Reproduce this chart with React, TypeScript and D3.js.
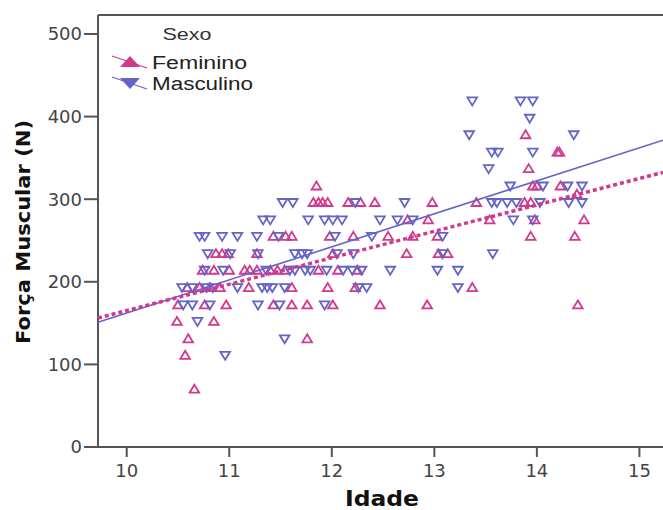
import React, { useEffect, useRef } from 'react';
import * as d3 from 'd3';

// Feminino (pink, up triangles)
const femIdade = [
  10.66, 10.57, 10.6, 11.76, 10.49, 10.85,
  10.5, 10.76, 10.97, 11.43, 11.61, 11.76, 12.01, 12.47, 12.93, 14.4,
  10.59, 10.71, 10.81, 10.91, 11.19, 11.61, 11.96, 12.23, 13.37,
  10.74, 10.85, 11.0, 11.15, 11.2, 11.27, 11.4, 11.47, 11.54, 11.87, 12.06, 12.25,
  10.87, 10.93, 10.99, 11.27, 12.01, 12.73, 13.04, 13.13,
  11.43, 11.55, 11.61, 11.98, 12.21, 12.55, 12.79, 13.03, 13.94, 14.37,
  12.74, 12.94, 13.54, 13.98, 14.46,
  11.82, 11.87, 11.91, 11.96, 12.16, 12.28, 12.42, 12.98, 13.41, 13.88, 13.94,
  14.39,
  11.85, 13.96, 14.0, 14.23,
  13.92,
  14.2, 14.22,
  13.89,
];
const femForca = [
  70, 111, 131, 131, 152, 152,
  172, 172, 172, 172, 172, 172, 172, 172, 172, 172,
  193, 193, 193, 193, 193, 193, 193, 193, 193,
  214, 214, 214, 214, 214, 214, 214, 214, 214, 214, 214, 214,
  234, 234, 234, 234, 234, 234, 234, 234,
  255, 255, 255, 255, 255, 255, 255, 255, 255, 255,
  275, 275, 275, 275, 275,
  296, 296, 296, 296, 296, 296, 296, 296, 296, 296, 296,
  306,
  316, 316, 316, 316,
  337,
  357, 357,
  378,
];

// Masculino (blue, down triangles)
const mascIdade = [
  10.96, 11.54, 10.69,
  10.55, 10.64, 10.81, 11.28, 11.49, 11.93,
  10.54, 10.64, 10.78, 10.84, 11.08, 11.32, 11.37, 11.42, 11.54, 12.26, 12.34, 13.23,
  10.76, 10.94, 11.36, 11.59, 11.64, 11.74, 11.79, 11.95, 12.11, 12.2, 12.29, 12.57, 13.03, 13.23,
  10.79, 11.01, 11.28, 11.64, 11.71, 11.76, 12.05, 12.21, 13.08, 13.57,
  10.71, 10.76, 10.93, 11.08, 11.27, 11.48, 12.03, 12.39, 13.08,
  11.33, 11.4, 11.77, 11.93, 12.01, 12.1, 12.47, 12.64, 12.79, 13.77, 13.96,
  11.52, 11.62, 12.23, 12.71, 13.56, 13.61, 13.71, 13.8, 14.03, 14.31, 14.44,
  13.74, 14.06, 14.3, 14.44,
  13.53,
  13.56, 13.62, 13.96,
  13.34, 14.36,
  13.93,
  13.37, 13.84, 13.96,
];
const mascForca = [
  111, 131, 152,
  172, 172, 172, 172, 172, 172,
  193, 193, 193, 193, 193, 193, 193, 193, 193, 193, 193, 193,
  214, 214, 214, 214, 214, 214, 214, 214, 214, 214, 214, 214, 214, 214,
  234, 234, 234, 234, 234, 234, 234, 234, 234, 234,
  255, 255, 255, 255, 255, 255, 255, 255, 255,
  275, 275, 275, 275, 275, 275, 275, 275, 275, 275, 275,
  296, 296, 296, 296, 296, 296, 296, 296, 296, 296, 296,
  316, 316, 316, 316,
  337,
  357, 357, 357,
  378, 378,
  398,
  419, 419, 419,
];

// linear fit lines: forca = a + b * idade
const fitFeminino = { a: -154.9, b: 32 };
const fitMasculino = { a: -237.7, b: 40 };

const xTicks = [10, 11, 12, 13, 14, 15];
const yTicks = [0, 100, 200, 300, 400, 500];

const PINK = '#d2398c';
const BLUE = '#6464c8';
const AXIS = '#555';

function App() {
  const ref = useRef<SVGSVGElement>(null);
  const width = 663;
  const height = 510;

  useEffect(() => {
    drawChart();
  }, []);

  function drawChart() {
    const svg = d3.select(ref.current);
    svg.selectAll('*').remove();

    const x = d3.scaleLinear().domain([9.72, 15.23]).range([98, 663]);
    const y = d3.scaleLinear().domain([0, 523]).range([447, 15]);

    const up = 'M0,-4.5L4.8,3.5L-4.8,3.5Z';
    const down = 'M0,4.5L4.8,-3.5L-4.8,-3.5Z';

    // frame
    svg.append('line').attr('x1', x(9.72)).attr('x2', 663).attr('y1', y(523)).attr('y2', y(523))
      .attr('stroke', AXIS).attr('stroke-width', 2);
    svg.append('line').attr('x1', x(9.72)).attr('x2', x(9.72)).attr('y1', y(523)).attr('y2', y(0) + 1)
      .attr('stroke', AXIS).attr('stroke-width', 2);
    svg.append('line').attr('x1', x(9.72) - 14).attr('x2', 663).attr('y1', y(0)).attr('y2', y(0))
      .attr('stroke', AXIS).attr('stroke-width', 2);

    // y ticks
    const gy = svg.append('g');
    yTicks.forEach((t) => {
      gy.append('line').attr('x1', x(9.72) - 14).attr('x2', x(9.72)).attr('y1', y(t)).attr('y2', y(t))
        .attr('stroke', AXIS).attr('stroke-width', 2);
      gy.append('text').attr('x', x(9.72) - 16).attr('y', y(t)).attr('dy', '0.36em')
        .attr('text-anchor', 'end').attr('font-family', 'DejaVu Sans').attr('font-size', 18)
        .attr('fill', '#444').text(t);
    });

    // x ticks
    const gx = svg.append('g');
    xTicks.forEach((t) => {
      gx.append('line').attr('x1', x(t)).attr('x2', x(t)).attr('y1', y(0)).attr('y2', y(0) + 10)
        .attr('stroke', AXIS).attr('stroke-width', 2);
      gx.append('text').attr('x', x(t)).attr('y', 477)
        .attr('text-anchor', 'middle').attr('font-family', 'DejaVu Sans').attr('font-size', 18)
        .attr('fill', '#444').text(t);
    });

    // axis titles
    svg.append('text').attr('x', 382).attr('y', 506).attr('text-anchor', 'middle')
      .attr('font-family', 'DejaVu Sans').attr('font-weight', 'bold').attr('font-size', 21)
      .attr('textLength', 74).attr('lengthAdjust', 'spacingAndGlyphs')
      .attr('fill', '#111').text('Idade');
    svg.append('text').attr('transform', 'translate(30,232) rotate(-90)').attr('text-anchor', 'middle')
      .attr('font-family', 'DejaVu Sans').attr('font-weight', 'bold').attr('font-size', 20)
      .attr('textLength', 224).attr('lengthAdjust', 'spacingAndGlyphs')
      .attr('fill', '#111').text('Força Muscular (N)');

    // points
    const fem = femIdade.map((d, i) => [d, femForca[i]]);
    const masc = mascIdade.map((d, i) => [d, mascForca[i]]);

    svg.append('g').selectAll('path').data(fem).enter().append('path')
      .attr('d', up).attr('transform', (d) => `translate(${x(d[0])},${y(d[1])})`)
      .attr('fill', 'none').attr('stroke', PINK).attr('stroke-width', 1.8);
    svg.append('g').selectAll('path').data(masc).enter().append('path')
      .attr('d', down).attr('transform', (d) => `translate(${x(d[0])},${y(d[1])})`)
      .attr('fill', 'none').attr('stroke', BLUE).attr('stroke-width', 1.8);

    // fit lines
    const ends = [9.72, 15.23];
    const line = d3.line<number[]>().x((d) => x(d[0])).y((d) => y(d[1]));
    svg.append('path').attr('d', line(ends.map((e) => [e, fitMasculino.a + fitMasculino.b * e])))
      .attr('fill', 'none').attr('stroke', BLUE).attr('stroke-width', 1.6);
    svg.append('path').attr('d', line(ends.map((e) => [e, fitFeminino.a + fitFeminino.b * e])))
      .attr('fill', 'none').attr('stroke', PINK).attr('stroke-width', 3.5).attr('stroke-dasharray', '4 3');

    // legend
    const lg = svg.append('g');
    lg.append('text').attr('x', 187).attr('y', 40).attr('text-anchor', 'middle')
      .attr('font-family', 'Liberation Sans').attr('font-size', 17)
      .attr('textLength', 49).attr('lengthAdjust', 'spacingAndGlyphs')
      .attr('fill', '#333').text('Sexo');
    const items = [
      { label: 'Feminino', color: PINK, shape: 'M0,-6L10,5L-10,5Z', y: 62, w: 95 },
      { label: 'Masculino', color: BLUE, shape: 'M0,6L10,-5L-10,-5Z', y: 83, w: 101 },
    ];
    items.forEach((it) => {
      lg.append('line').attr('x1', 112).attr('x2', 147).attr('y1', it.y - 6).attr('y2', it.y + 6)
        .attr('stroke', it.color).attr('stroke-width', 1.2);
      lg.append('path').attr('d', it.shape).attr('transform', `translate(130,${it.y})`).attr('fill', it.color);
      lg.append('text').attr('x', 152).attr('y', it.y + 7)
        .attr('font-family', 'Liberation Sans').attr('font-size', 18)
        .attr('textLength', it.w).attr('lengthAdjust', 'spacingAndGlyphs')
        .attr('fill', '#222').text(it.label);
    });
  }

  return (
    <svg ref={ref} width={width} height={height}
      style={{ position: 'absolute', left: 0, top: 0, background: '#fff' }} />
  );
}

export default App;
